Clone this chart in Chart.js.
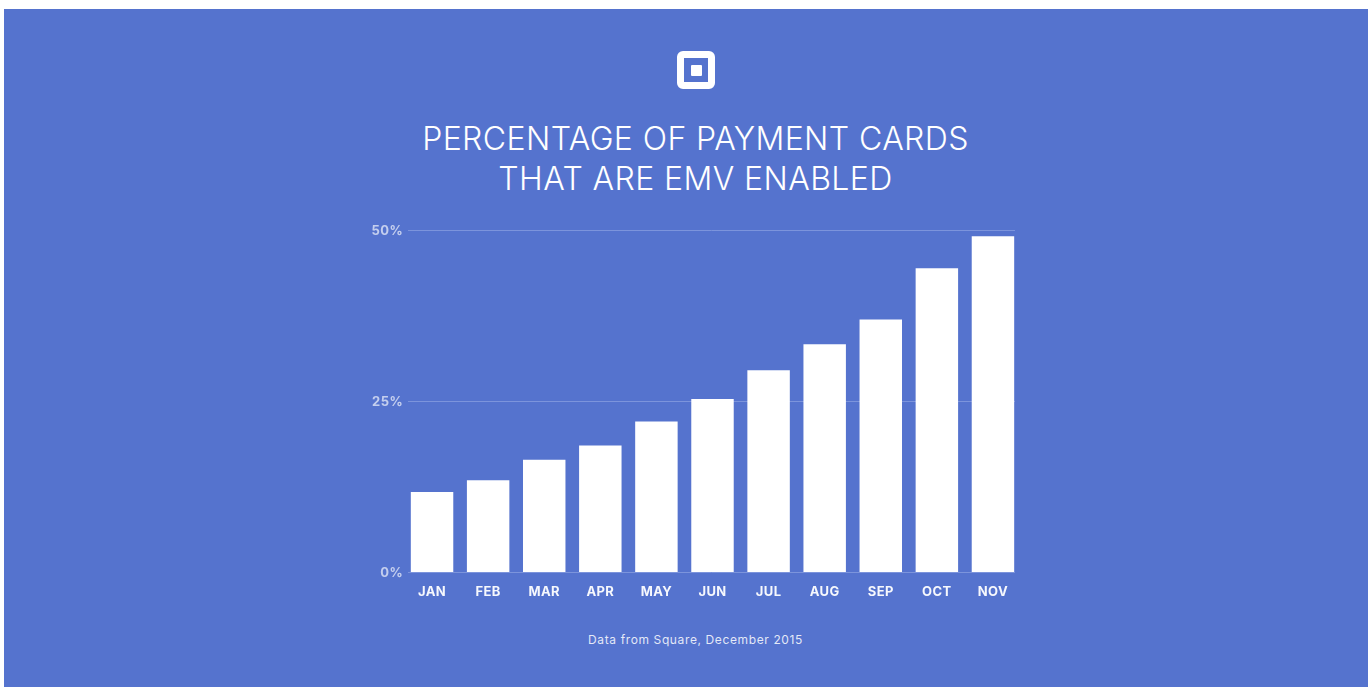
<!DOCTYPE html>
<html>
<head>
<meta charset="utf-8">
<title>EMV enabled payment cards</title>
<script src="https://cdn.jsdelivr.net/npm/chart.js@4/dist/chart.umd.min.js"></script>
<style>
	html, body { margin: 0; padding: 0; background: #fff; overflow: hidden; }
	#panel { position: absolute; left: 4px; top: 9px; width: 1364px; height: 678px; background: #5573ce; }
	#logo { position: absolute; left: 673px; top: 42px; width: 38px; height: 38px; box-sizing: border-box; border: 7px solid #fff; border-radius: 6px; }
	#logo span { position: absolute; left: 6.5px; top: 6.5px; width: 11px; height: 11px; background: #fff; border-radius: 1px; }
	#title { position: absolute; left: 0; top: 110px; width: 1383px; text-align: center; color: #fff; font: 300 32px/40px Inter, sans-serif; letter-spacing: 0.4px; }
	#source { position: absolute; left: 0; top: 623px; width: 1383px; text-align: center; color: rgba(255,255,255,0.85); font: 400 12px/16px Inter, sans-serif; letter-spacing: 0.62px; }
	#chartWrap { position: absolute; left: 356px; top: 206px; width: 680px; height: 395px; }
</style>
</head>
<body>
<div id="panel">
	<div id="logo"><span></span></div>
	<div id="title">PERCENTAGE OF PAYMENT CARDS<br>THAT ARE EMV ENABLED</div>
	<div id="chartWrap"><canvas id="emvChart" width="680" height="395"></canvas></div>
	<div id="source">Data from Square, December 2015</div>
</div>
<script>
// Monthly share of EMV cards, 2015
var months = ['JAN', 'FEB', 'MAR', 'APR', 'MAY', 'JUN', 'JUL', 'AUG', 'SEP', 'OCT', 'NOV'];
var emvShare = [11.7, 13.4, 16.4, 18.5, 22.0, 25.3, 29.5, 33.3, 36.9, 44.4, 49.1];
var shareTicks = [0, 25, 50];

// Grid lines stop short of the outer edges of the category bands
var insetGrid = {
	id: 'insetGrid',
	beforeDraw: function(chart) {
		chart.ctx.letterSpacing = '0.4px';
	},
	beforeDatasetsDraw: function(chart) {
		var ctx = chart.ctx, yScale = chart.scales.y, area = chart.chartArea;
		ctx.save();
		ctx.strokeStyle = '#7c94dc';
		ctx.lineWidth = 1;
		shareTicks.forEach(function(tick) {
			var y = Math.round(yScale.getPixelForValue(tick)) + 0.5;
			ctx.beginPath();
			ctx.moveTo(area.left + 4, y);
			ctx.lineTo(area.right - 6, y);
			ctx.stroke();
		});
		ctx.restore();
	}
};

new Chart(document.getElementById('emvChart'), {
	type: 'bar',
	plugins: [insetGrid],
	data: {
		labels: months,
		datasets: [{
			data: emvShare,
			backgroundColor: '#fff',
			borderWidth: 0,
			barPercentage: 0.757,
			categoryPercentage: 1
		}]
	},
	options: {
		responsive: false,
		animation: false,
		layout: { padding: { top: 15, right: 19, left: 0, bottom: 0 } },
		plugins: { legend: { display: false }, tooltip: { enabled: false } },
		scales: {
			x: {
				grid: { display: false, drawTicks: false, tickLength: 0 },
				border: { display: false },
				afterFit: function(scale) { scale.height = 38; },
				ticks: {
					color: 'rgba(255,255,255,0.95)',
					padding: 12,
					maxRotation: 0,
					font: { family: 'Inter', size: 13, weight: '700' }
				}
			},
			y: {
				min: 0,
				max: 50,
				afterBuildTicks: function(scale) {
					scale.ticks = shareTicks.map(function(v) { return { value: v }; });
				},
				afterFit: function(scale) { scale.width = 44; },
				grid: { display: false, drawTicks: false, tickLength: 0 },
				border: { display: false },
				ticks: {
					color: 'rgba(255,255,255,0.65)',
					padding: 1,
					labelOffset: 1,
					font: { family: 'Inter', size: 13, weight: '700' },
					callback: function(value) { return value + '%'; }
				}
			}
		}
	}
});
</script>
</body>
</html>
